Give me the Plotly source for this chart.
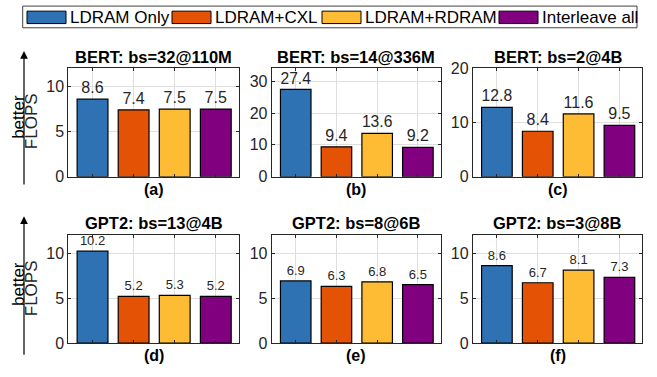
import plotly.graph_objects as go

W, H = 657, 377

series = ["LDRAM Only", "LDRAM+CXL", "LDRAM+RDRAM", "Interleave all"]
colors = ["#2E72B4", "#E35205", "#FDBC33", "#800080"]

titles = ["BERT: bs=32@110M", "BERT: bs=14@336M", "BERT: bs=2@4B",
          "GPT2: bs=13@4B", "GPT2: bs=8@6B", "GPT2: bs=3@8B"]
panel_labels = ["(a)", "(b)", "(c)", "(d)", "(e)", "(f)"]

vals_a = [8.6, 7.4, 7.5, 7.5]
vals_b = [27.4, 9.4, 13.6, 9.2]
vals_c = [12.8, 8.4, 11.6, 9.5]
vals_d = [10.2, 5.2, 5.3, 5.2]
vals_e = [6.9, 6.3, 6.8, 6.5]
vals_f = [8.6, 6.7, 8.1, 7.3]
all_vals = [vals_a, vals_b, vals_c, vals_d, vals_e, vals_f]

y_ranges = [[0, 12], [0, 34], [0, 20], [0, 12], [0, 12], [0, 12]]
y_ticks = [[0, 5, 10], [0, 10, 20, 30], [0, 10, 20], [0, 5, 10], [0, 5, 10], [0, 5, 10]]

FONT = "Liberation Sans, Arial, sans-serif"
AXC = "#262626"

# pixel layout
col_px = [(68.3, 238.8), (271.7, 440.7), (472.8, 642.3)]
row_px = [(63.3, 176.7), (237.7, 351.0)]

def px_x(x):
    return x / W

def px_y(y):
    return 1 - y / H

fig = go.Figure()
layout = {}
annotations = []
for i, vals in enumerate(all_vals):
    r, c = divmod(i, 3)
    n = "" if i == 0 else str(i + 1)
    xa, ya = "x" + n, "y" + n
    big = r == 0
    fig.add_trace(go.Bar(
        x=[1, 2, 3, 4], y=vals, xaxis=xa, yaxis=ya,
        marker=dict(color=colors, line=dict(color="black", width=1.2)),
        width=0.75,
        text=[f"{v:.1f}" for v in vals], textposition="outside",
        textfont=dict(size=16 if big else 13, color=AXC, family=FONT),
        cliponaxis=False, showlegend=False, hoverinfo="skip",
    ))
    x0, x1 = col_px[c]
    y0, y1 = row_px[r]
    layout["xaxis" + n] = dict(
        domain=[px_x(x0), px_x(x1)], anchor=ya, range=[0.41, 4.56],
        tickvals=[1, 2, 3, 4], showticklabels=False, showgrid=True,
        gridcolor="#dedede", gridwidth=1, ticks="inside", ticklen=3,
        tickcolor=AXC, showline=True, linecolor=AXC, linewidth=1,
        mirror="ticks", zeroline=False, fixedrange=True,
    )
    layout["yaxis" + n] = dict(
        domain=[px_y(y1), px_y(y0)], anchor=xa, range=y_ranges[i],
        tickvals=y_ticks[i], showgrid=True, gridcolor="#dedede", gridwidth=1,
        ticks="inside", ticklen=3, tickcolor=AXC, showline=True,
        linecolor=AXC, linewidth=1, mirror="ticks", zeroline=False,
        tickfont=dict(size=16, color=AXC, family=FONT), fixedrange=True,
    )
    cx = px_x((x0 + x1) / 2)
    annotations.append(dict(
        x=cx, y=px_y(y0 - 12.5), xref="paper", yref="paper",
        text="<b>" + titles[i] + "</b>", showarrow=False,
        xanchor="center", yanchor="middle",
        font=dict(size=16.5, color="black", family=FONT),
    ))
    annotations.append(dict(
        x=cx, y=px_y(y1 + 13), xref="paper", yref="paper",
        text="<b>" + panel_labels[i] + "</b>", showarrow=False,
        xanchor="center", yanchor="middle",
        font=dict(size=16, color="black", family=FONT),
    ))

# y-axis "better FLOPS" labels and arrows
for (tip, bottom, cy) in [(45, 180, 117), (218, 358, 292)]:
    annotations.append(dict(
        x=px_x(24), y=px_y(tip), xref="paper", yref="paper",
        ax=0, ay=bottom - tip, text="", showarrow=True,
        arrowhead=2, arrowsize=1.3, arrowwidth=1.2, arrowcolor="black",
    ))
    annotations.append(dict(
        x=px_x(18.5), y=px_y(cy - 2.5), xref="paper", yref="paper",
        text="better", showarrow=False, textangle=-90,
        xanchor="center", yanchor="middle",
        font=dict(size=17, color="black", family=FONT),
    ))
    annotations.append(dict(
        x=px_x(31.5), y=px_y(cy + 2), xref="paper", yref="paper",
        text="FLOPS", showarrow=False, textangle=-90,
        xanchor="center", yanchor="middle",
        font=dict(size=17, color=AXC, family=FONT),
    ))

# legend drawn manually
shapes = [dict(type="rect", xref="paper", yref="paper",
               x0=px_x(22.7), x1=px_x(637), y0=px_y(20.7), y1=px_y(-2),
               line=dict(color="#404040", width=1), fillcolor="white")]
patch_x = [27, 172, 322, 499]
for k, name in enumerate(series):
    px0 = patch_x[k]
    shapes.append(dict(type="rect", xref="paper", yref="paper",
                       x0=px_x(px0), x1=px_x(px0 + 39), y0=px_y(16.3), y1=px_y(3.3),
                       line=dict(color="black", width=1), fillcolor=colors[k]))
    annotations.append(dict(
        x=px_x(px0 + 41), y=px_y(10.2), xref="paper", yref="paper",
        text=name, showarrow=False, xanchor="left", yanchor="middle",
        font=dict(size=17, color="black", family=FONT),
    ))

fig.update_layout(
    width=W, height=H, margin=dict(l=0, r=0, t=0, b=0),
    paper_bgcolor="white", plot_bgcolor="white",
    font=dict(family=FONT, color=AXC),
    annotations=annotations, shapes=shapes, showlegend=False,
    **layout,
)

fig.write_html(
    "out.html",
    config={"displayModeBar": False, "staticPlot": True},
    post_script="document.body.style.margin='0';document.body.style.overflow='hidden';",
)
